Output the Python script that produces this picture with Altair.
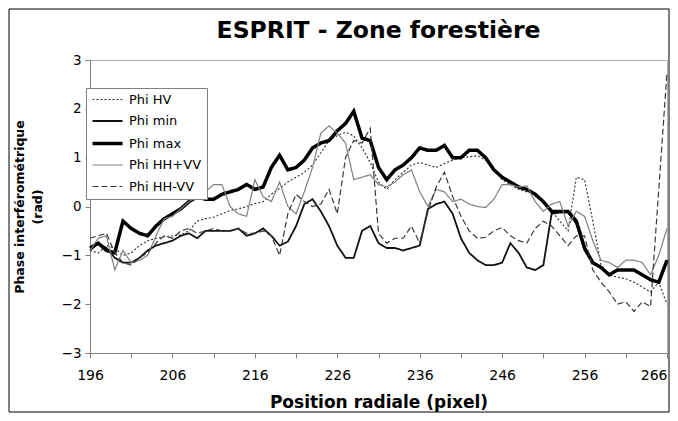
import altair as alt
import pandas as pd

positions = list(range(196, 267))

series_names = ["Phi HV", "Phi min", "Phi max", "Phi HH+VV", "Phi HH-VV"]

phi_hv = [-0.9, -0.95, -0.8, -0.85, -1.0, -0.95, -0.8, -0.7, -0.65, -0.62,
          -0.6, -0.58, -0.5, -0.3, -0.25, -0.22, -0.15, -0.08, -0.05, 0.0,
          0.06, 0.1, 0.25, 0.37, 0.5, 0.6, 0.7, 0.85, 1.1, 1.35,
          1.45, 1.52, 1.45, 1.2, 0.9, 0.5, 0.35, 0.55, 0.7, 0.85,
          0.9, 0.85, 0.8, 0.88, 0.95, 1.0, 1.02, 1.04, 0.95, 0.75,
          0.55, 0.45, 0.35, 0.3, 0.27, 0.1, -0.1, -0.3, -0.5, 0.6,
          0.55, -0.3, -1.2, -1.4, -1.45, -1.48, -1.55, -1.65, -1.75, -1.55, -2.0]

phi_min = [-0.9, -0.75, -0.85, -1.05, -1.15, -1.15, -1.05, -0.9, -0.8, -0.75,
           -0.7, -0.6, -0.55, -0.65, -0.5, -0.5, -0.5, -0.5, -0.45, -0.6,
           -0.55, -0.45, -0.6, -0.8, -0.72, -0.4, 0.05, 0.15, -0.1, -0.4,
           -0.8, -1.05, -1.05, -0.5, -0.4, -0.75, -0.85, -0.85, -0.9, -0.85,
           -0.8, -0.05, 0.05, 0.1, -0.15, -0.65, -0.95, -1.1, -1.2, -1.2,
           -1.15, -0.75, -0.95, -1.25, -1.3, -1.2, -0.15, -0.12, -0.12, -0.35,
           -0.9, -1.15, -1.25, -1.4, -1.3, -1.3, -1.3, -1.4, -1.5, -1.55, -1.1]

phi_max = [-0.85, -0.75, -0.9, -0.95, -0.3, -0.45, -0.55, -0.6, -0.4, -0.25,
           -0.15, -0.05, 0.1, 0.2, 0.15, 0.15, 0.25, 0.3, 0.35, 0.45,
           0.35, 0.4, 0.8, 1.05, 0.75, 0.8, 0.95, 1.2, 1.3, 1.35,
           1.55, 1.7, 1.95, 1.4, 1.35, 0.8, 0.55, 0.75, 0.85, 1.0,
           1.2, 1.15, 1.15, 1.25, 1.0, 1.0, 1.15, 1.15, 1.0, 0.75,
           0.6, 0.5, 0.4, 0.35, 0.25, 0.1, -0.1, -0.1, -0.1, -0.3,
           -0.85, -1.15, -1.25, -1.4, -1.3, -1.3, -1.3, -1.4, -1.5, -1.55, -1.1]

phi_hh_plus_vv = [-0.9, -0.65, -0.6, -1.3, -0.9, -1.15, -1.1, -1.0, -0.6, -0.25,
                  -0.2, -0.05, 0.1, 0.2, 0.3, 0.45, 0.45, 0.0, -0.15, -0.2,
                  0.55, 0.2, 0.1, 0.5, 0.0, -0.15, 0.3, 0.8, 1.5, 1.65,
                  1.5, 1.3, 0.55, 0.6, 0.65, 0.45, 0.4, 0.5, 0.65, 0.75,
                  0.3, 0.0, 0.35, 0.3, 0.1, 0.15, 0.05, 0.0, -0.02, 0.15,
                  0.45, 0.45, 0.4, 0.42, 0.1, -0.1, 0.05, 0.1, -0.4, -0.1,
                  -0.2, -0.7, -1.1, -1.15, -1.25, -1.1, -1.1, -1.15, -1.4, -1.0, -0.45]

phi_hh_minus_vv = [-0.65, -0.6, -0.55, -0.95, -1.15, -1.2, -1.05, -0.95, -0.75, -0.6,
                   -0.65, -0.5, -0.45, -0.55, -0.5, -0.45, -0.5, -0.5, -0.45, -0.55,
                   -0.55, -0.5, -0.6, -1.0, -0.15, 0.25, 0.1, 0.0, 0.05, 0.35,
                   -0.15, 1.0, 1.35, 1.3, 1.6, -0.55, -0.75, -0.65, -0.65, -0.4,
                   -0.75, -0.1, 0.4, 0.7, 0.2, -0.2, -0.5, -0.65, -0.63, -0.5,
                   -0.43, -0.6, -0.7, -0.75, -0.45, -0.3, -0.4, -0.6, -0.8, -0.6,
                   -0.6, -1.3, -1.55, -1.75, -2.0, -1.95, -2.15, -1.95, -2.05, 0.35, 2.75]

x_ticks = list(range(196, 267, 5))
y_ticks = [-3, -2, -1, 0, 1, 2, 3]

colors = ["#3a3a3a", "#111111", "#000000", "#808080", "#3a3a3a"]
dashes = [[2, 2], [1, 0], [1, 0], [1, 0], [6, 3]]
widths = [1.2, 1.8, 3.5, 1.2, 1.2]

all_series = [phi_hv, phi_min, phi_max, phi_hh_plus_vv, phi_hh_minus_vv]
rows = []
for name, vals, w in zip(series_names, all_series, widths):
    for p, v in zip(positions, vals):
        rows.append({"pos": p, "phi": v, "serie": name, "w": w})
df = pd.DataFrame(rows)

FONT = "DejaVu Sans"

width_expr = " : ".join(
    f"datum.value == '{n}' ? {w}" for n, w in zip(series_names, widths)
) + " : 1"

legend = alt.Legend(
    title=None, orient="none", legendX=-4, legendY=28,
    fillColor="white", strokeColor="#808080", padding=5,
    labelFont=FONT, labelFontSize=13, labelColor="black",
    symbolType="M-1,0H5", symbolSize=100, rowPadding=7.5,
    labelOffset=25,
    symbolStrokeWidth=alt.ExprRef(expr=width_expr),
)

lines = alt.Chart(df).mark_line(clip=False).encode(
    x=alt.X("pos:Q",
            scale=alt.Scale(domain=[196, 266], nice=False, zero=False),
            axis=alt.Axis(values=x_ticks,
                          labelExpr="(datum.value - 196) % 10 == 0 ? datum.label : ''",
                          labelAlign=alt.ExprRef(expr="datum.value == 266 ? 'right' : 'center'"),
                          title="Position radiale (pixel)", grid=False, labelFlush=False,
                          labelFontSize=14, labelPadding=10, titlePadding=12,
                          titleFontSize=17)),
    y=alt.Y("phi:Q",
            scale=alt.Scale(domain=[-3, 3], nice=False),
            axis=alt.Axis(values=y_ticks, grid=False,
                          title=["Phase interférométrique", "(rad)"],
                          labelFontSize=13.5, labelPadding=4, titlePadding=17,
                          titleFontSize=12.5, titleLineHeight=18)),
    color=alt.Color("serie:N", scale=alt.Scale(domain=series_names, range=colors), legend=legend),
    strokeDash=alt.StrokeDash("serie:N", scale=alt.Scale(domain=series_names, range=dashes), legend=legend),
    strokeWidth=alt.StrokeWidth("w:Q", scale=None),
)

frame = alt.Chart(pd.DataFrame({"a": [0]})).mark_rect(fill=None, stroke="black", strokeWidth=1).encode(
    x=alt.value(-81), x2=alt.value(579), y=alt.value(-51), y2=alt.value(352)
)

chart = alt.layer(frame, lines).properties(
    width=577, height=293,
    title=alt.TitleParams("ESPRIT - Zone forestière", font=FONT, fontSize=23.5,
                          fontWeight="bold", anchor="middle", frame="group",
                          offset=18, dy=52, color="black"),
    autosize=alt.AutoSizeParams(type="none"),
    padding={"left": 82, "top": 52, "right": 3, "bottom": 60},
).configure_view(
    stroke="#b0b0b0"
).configure_axis(
    labelFont=FONT, labelColor="black",
    titleFont=FONT, titleFontWeight="bold", titleColor="black",
    domainColor="#808080", tickColor="#808080", tickSize=5,
)

chart.save("out.html", embed_options={"renderer": "svg", "actions": False})
